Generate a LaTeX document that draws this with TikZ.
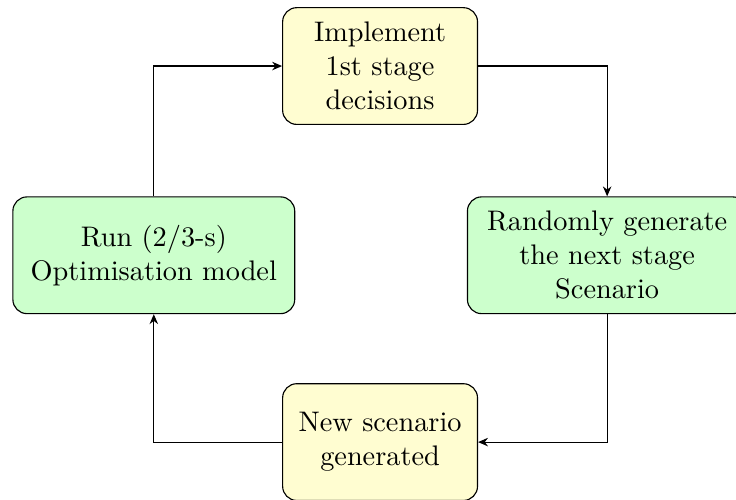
\documentclass[tikz,border=0pt]{standalone}
\usepackage{amsmath}
\usepackage{tikz}
\usetikzlibrary{arrows.meta, positioning}

\begin{document}
\begin{tikzpicture}[>={Stealth[length=3.5pt, width=3pt]},
		stagebox/.style={draw, rounded corners=5pt, align=center, fill=yellow!18, minimum width=2.42cm, minimum height=1.45cm},
		modelbox/.style={draw, rounded corners=5pt, align=center, fill=green!20, minimum height=1.45cm}]
		
		% Fix the frame of the picture
		\useasboundingbox (0,0) rectangle (9.14,-6.2);
		
		% Place the four steps of the loop
		\node[stagebox] (implement) at (4.72,-0.82) {Implement\\1st stage\\decisions};
		\node[modelbox, minimum width=3.47cm] (generate) at (7.54,-3.17) {Randomly generate\\the next stage\\Scenario};
		\node[stagebox] (newscen) at (4.72,-5.49) {New scenario\\generated};
		\node[modelbox, minimum width=3.5cm] (runmodel) at (1.91,-3.17) {Run (2/3-s)\\Optimisation model};
		
		% Connect the steps clockwise
		\draw[->] (implement.east) -| (generate.north);
		\draw[->] (generate.south) |- (newscen.east);
		\draw[->] (newscen.west) -| (runmodel.south);
		\draw[->] (runmodel.north) |- (implement.west);
		
	\end{tikzpicture}
\end{document}
